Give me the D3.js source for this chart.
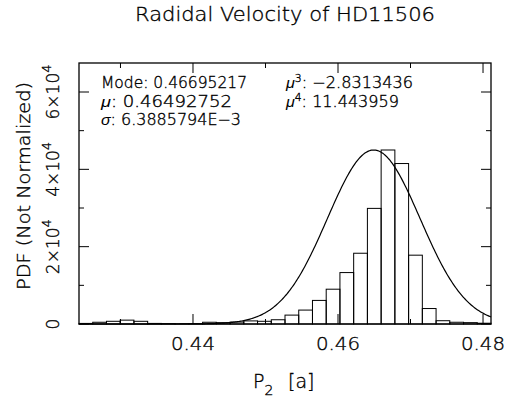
<!DOCTYPE html>
<html>
<head>
<meta charset="utf-8">
<script src="https://cdn.jsdelivr.net/npm/d3@7"></script>
<style>
  html, body { margin: 0; padding: 0; background: #fff; }
  text { font-family: "DejaVu Sans", sans-serif; font-weight: 200; fill: #000; stroke: #000; stroke-width: 0.35; }
  tspan.it { font-family: "Liberation Sans", sans-serif; font-style: italic; font-weight: 400; stroke-width: 0; }
</style>
</head>
<body>
<svg id="chart" width="520" height="407"></svg>
<script>
// ---- data ----
const xDomain = [0.42428, 0.48110];           // histogram range (min..max of samples)
const binCounts = [150, 450, 700, 1000, 700, 150, 100, 50, 100, 450,
                   350, 500, 800, 700, 1100, 2300, 3600, 6100, 9000, 13300,
                   18300, 29900, 45000, 41500, 17800, 4000, 850, 450, 350, 200];
const yDomain = [0, 67500];
const xMajorTicks = [0.44, 0.46, 0.48];
const xMinorTicks = [0.43, 0.45, 0.47];
const xTickLabels = ["0.44", "0.46", "0.48"];
const yMajorTicks = [0, 20000, 40000, 60000];
const yMinorTicks = [10000, 30000, 50000];
const yTickMantissa = ["0", "2", "4", "6"];
const fitMu = 0.46492752;
const fitSigma = 6.3885794e-3;
const fitPeak = 45000;
const statsLeft = [["Mode", "0.46695217"], ["μ", "0.46492752"], ["σ", "6.3885794E−3"]];
const statsRight = [["3", "−2.8313436"], ["4", "11.443959"]];

// ---- layout ----
const L = 79, R = 491, T = 63, B = 324;
const svg = d3.select("#chart");
const x = d3.scaleLinear().domain(xDomain).range([L, R]);
const y = d3.scaleLinear().domain(yDomain).range([B, T]);

const nb = binCounts.length;
const bw = (xDomain[1] - xDomain[0]) / nb;
const bins = binCounts.map((c, i) => ({x0: xDomain[0] + i * bw, x1: xDomain[0] + (i + 1) * bw, c}));

// histogram
svg.append("g").selectAll("rect").data(bins).join("rect")
  .attr("x", d => x(d.x0)).attr("width", d => x(d.x1) - x(d.x0))
  .attr("y", d => y(d.c)).attr("height", d => y(0) - y(d.c))
  .attr("fill", "none").attr("stroke", "#000").attr("stroke-width", 1);

// gaussian fit curve
const curvePts = d3.range(0, 401).map(i => {
  const xv = xDomain[0] + (xDomain[1] - xDomain[0]) * i / 400;
  return [xv, fitPeak * Math.exp(-0.5 * Math.pow((xv - fitMu) / fitSigma, 2))];
});
svg.append("path").datum(curvePts)
  .attr("d", d3.line().x(d => x(d[0])).y(d => y(d[1])))
  .attr("fill", "none").attr("stroke", "#000").attr("stroke-width", 1.2);

// frame
svg.append("rect").attr("x", L).attr("y", T).attr("width", R - L).attr("height", B - T)
  .attr("fill", "none").attr("stroke", "#000").attr("stroke-width", 1.3);

// ticks
const tk = svg.append("g").attr("stroke", "#000").attr("stroke-width", 1);
[[xMajorTicks, 10], [xMinorTicks, 5]].forEach(([arr, len]) => {
  arr.forEach(v => {
    tk.append("line").attr("x1", x(v)).attr("x2", x(v)).attr("y1", B).attr("y2", B - len);
    tk.append("line").attr("x1", x(v)).attr("x2", x(v)).attr("y1", T).attr("y2", T + len);
  });
});
[[yMajorTicks, 10], [yMinorTicks, 5]].forEach(([arr, len]) => {
  arr.forEach(v => {
    tk.append("line").attr("x1", L).attr("x2", L + len).attr("y1", y(v)).attr("y2", y(v));
    tk.append("line").attr("x1", R).attr("x2", R - len).attr("y1", y(v)).attr("y2", y(v));
  });
});

// x tick labels
svg.append("g").selectAll("text").data(xMajorTicks).join("text")
  .attr("x", d => x(d)).attr("y", 350).attr("text-anchor", "middle")
  .attr("font-size", 18).attr("textLength", 44).attr("lengthAdjust", "spacingAndGlyphs")
  .text((d, i) => xTickLabels[i]);

// y tick labels (rotated)
yMajorTicks.forEach((v, i) => {
  const t = svg.append("text")
    .attr("transform", `translate(59,${y(v)}) rotate(-90)`)
    .attr("text-anchor", "middle").attr("font-size", 17);
  if (v === 0) { t.text(yTickMantissa[i]); }
  else {
    t.append("tspan").text(yTickMantissa[i] + "×10");
    t.append("tspan").attr("dy", -8).attr("font-size", 13).text("4");
  }
});

// axis titles
svg.append("text").attr("transform", "translate(30,186) rotate(-90)")
  .attr("text-anchor", "middle").attr("font-size", 18)
  .attr("textLength", 208).attr("lengthAdjust", "spacingAndGlyphs").text("PDF (Not Normalized)");
const xt = svg.append("text").attr("x", 253).attr("y", 388).attr("font-size", 19);
xt.append("tspan").text("P");
xt.append("tspan").attr("dy", 7).attr("font-size", 14).text("2");
xt.append("tspan").attr("x", 288).attr("dy", -7).text("[a]");

// title
svg.append("text").attr("x", 285).attr("y", 21).attr("text-anchor", "middle")
  .attr("font-size", 19).attr("textLength", 300).attr("lengthAdjust", "spacingAndGlyphs")
  .text("Radidal Velocity of HD11506");

// stats (left column)
const lineY = [88, 107, 125];
const leftLen = [146, 131, 140];
statsLeft.forEach((s, i) => {
  const t = svg.append("text").attr("x", 101).attr("y", lineY[i]).attr("font-size", 15)
    .attr("textLength", leftLen[i]).attr("lengthAdjust", "spacingAndGlyphs");
  if (i === 0) t.append("tspan").text(s[0]);
  else t.append("tspan").attr("class", "it").text(s[0]);
  t.append("tspan").text(": " + s[1]);
});
const rightLen = [127, 113];
statsRight.forEach((s, i) => {
  const t = svg.append("text").attr("x", 286).attr("y", lineY[i]).attr("font-size", 15)
    .attr("textLength", rightLen[i]).attr("lengthAdjust", "spacingAndGlyphs");
  t.append("tspan").attr("class", "it").text("μ");
  t.append("tspan").attr("dy", -6).attr("font-size", 10).text(s[0]);
  t.append("tspan").attr("dy", 6).text(": " + s[1]);
});
</script>
</body>
</html>
